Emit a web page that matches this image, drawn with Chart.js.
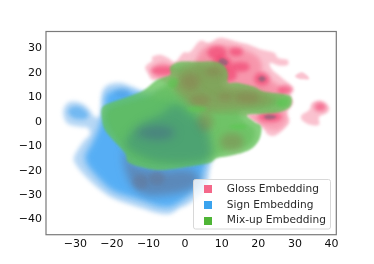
<!DOCTYPE html>
<html>
<head>
<meta charset="utf-8">
<style>body { margin: 0; background: #fff; } canvas { display: block; }</style>
<script src="https://cdn.jsdelivr.net/npm/chart.js@4/dist/chart.umd.min.js"></script>
</head>
<body>
<canvas id="kdeChart" width="374" height="264"></canvas>
<script>
const xTicks = [-30, -20, -10, 0, 10, 20, 30, 40];
const yTicks = [-40, -30, -20, -10, 0, 10, 20, 30];
const legendLabels = ['Gloss Embedding', 'Sign Embedding', 'Mix-up Embedding'];

// density contours, [x, y] in axis units
const glossEdge = [[-10.9,22.5],[-9,25],[-9,26.6],[-6.8,27.5],[-4.6,26.2],[-2.7,24.6],[-0.5,28.3],[1.4,28.7],[4.1,33.2],[6.6,32.4],[9.6,34.4],[14.2,32.8],[17.5,31.6],[21,29.5],[24.3,28.3],[25.4,26.2],[27.9,25.4],[28.1,23.4],[26,23],[23.2,24.2],[23.8,21.3],[26.5,18],[29.5,13.9],[28.7,11.1],[29.5,7.8],[27.9,3.7],[28.4,-0.4],[25.1,-5.3],[22.7,-5.3],[21,-2],[16.9,2],[10.9,2.9],[4.1,4.9],[-2.7,13.1],[-6.8,17.2],[-9,17.2],[-10.1,19.7]];
const glossEast = [[31.9,2.9],[33.9,4.9],[34.7,7.8],[36.9,8.6],[39.3,6.1],[38.8,3.7],[36.6,2],[36.6,-1.2],[34.2,-1.2],[31.9,0.8]];
const glossIsland = [[30.1,18.9],[31.7,20.3],[33.1,19.3],[33.9,17.6],[32.2,17.4],[30.6,18]];
const glossWing = [[-9,22.1],[-6.3,24.6],[-3.5,23],[-1.9,20.5],[-4.1,17.2],[-8.2,18]];
const glossMain = [[4.1,28.7],[8.2,31.6],[13.7,30.7],[19.1,27.5],[21,23.4],[21,19.3],[25.4,15.2],[27.3,11.1],[23.2,6.9],[15,9],[6.8,11.1],[2.7,19.3]];
const glossSouth = [[17.2,1.6],[21,3.7],[26.5,5.7],[27.9,0.8],[25.4,-3.3],[21.9,-2.5]];
const glossHot = [
  [[-9.5,21],[-7.5,22.7],[-4,22.7],[-2.5,21],[-4,19.3],[-7.5,19.3]],
  [[6,28.3],[7.5,30.8],[10,30.8],[11.4,28.3],[10,25.8],[7.5,25.8]],
  [[12,28.7],[13,30.3],[15,30.3],[15.8,28.7],[15,27.1],[13,27.1]],
  [[7.4,23.8],[8.7,26.7],[11.5,26.7],[12.8,23.8],[11.5,20.9],[8.7,20.9]],
  [[12.3,22.5],[13.5,24.3],[16.5,24.3],[17.7,22.5],[16.5,20.7],[13.5,20.7]],
  [[18.8,17.6],[20,20.1],[22,20.1],[23.2,17.6],[22,15.1],[20,15.1]],
  [[9.2,19.3],[10.5,21.8],[13,21.8],[14.2,19.3],[13,16.8],[10.5,16.8]],
  [[19.9,2],[21.5,4],[25,4],[26.5,2],[25,0],[21.5,0]],
  [[25.3,13.1],[26.3,14.7],[28.3,14.7],[29.3,13.1],[28.3,11.5],[26.3,11.5]],
  [[35.3,6.1],[36,7.7],[37.8,7.7],[38.5,6.1],[37.8,4.5],[36,4.5]]
];
const glossGrey = [
  [[9,24.5],[10,26],[11.5,25],[11.5,23.5],[10,23]],
  [[20,17.6],[21,18.8],[22,17.6],[21,16.4]],
  [[21.5,2],[23,3],[25,2],[23,1]]
];
const signEdge = [[-33.3,4.1],[-32,7.8],[-29.5,8.2],[-26.8,6.1],[-24.6,2],[-23.2,2.9],[-22.7,11.9],[-21,15.2],[-17.8,16],[-14.2,14.3],[-11.5,12.7],[-5.5,13.1],[1.4,9],[5.5,0.8],[7.4,-11.5],[6.6,-20.9],[6,-26.6],[3.3,-31.1],[0.5,-34],[-1.4,-35.2],[-4.1,-37.7],[-7.7,-37.3],[-12.3,-35.2],[-18.6,-32],[-22.4,-28.7],[-26.8,-23],[-30.1,-16.8],[-30.1,-13.5],[-27.9,-8.2],[-26,-5.3],[-26.5,-2.5],[-28.7,-2],[-32.2,-0.6]];
const signMid = [[-27.3,-15.6],[-25.4,-8.6],[-23.8,-3.3],[-22.1,4.9],[-21.6,11.1],[-18.3,13.1],[-13.7,11.9],[-9.6,10.2],[1.4,4.9],[5.5,-11.5],[4.9,-21.7],[2.7,-27.9],[-2.7,-34],[-6.8,-34.8],[-12.3,-32],[-19.1,-28.7],[-23.2,-23.8]];
const signWest = [[-32,4.1],[-30.9,6.1],[-28.7,6.1],[-26.5,3.3],[-27.3,1.2],[-30.6,1.6]];
const signDark = [[-16.7,-11.5],[-13.7,-17.6],[-6.8,-19.7],[1.4,-19.7],[4.1,-23.8],[1.4,-27.9],[-5.5,-29.9],[-10.9,-29.9],[-14.5,-25.8],[-16.4,-18.9]];
const signGrey = [
  [[-14.5,-24.6],[-13.2,-22],[-11.2,-22],[-10.1,-24.6],[-11.2,-27.5],[-13.2,-27.5]],
  [[-9.9,-23],[-8.8,-20.5],[-6.6,-20.5],[-5.5,-23],[-6.6,-25.5],[-8.8,-25.5]]
];
const signNorth = [[-19.4,11.9],[-18,13.5],[-16,13.5],[-15,11.9],[-16,10.3],[-18,10.3]];
const mixEdge = [[-22.7,5.7],[-20.5,7.8],[-15.8,10.2],[-11.5,12.7],[-7.7,17.2],[-4.1,19.3],[-4.1,22.5],[-1.4,24.6],[3.3,24.6],[8.2,24.6],[10.9,22.5],[11.7,19.3],[11.7,16],[14.2,16],[18.9,14.3],[21.6,12.3],[27.9,11.1],[29.2,9],[28.4,5.7],[25.1,3.7],[21.6,3.3],[16.9,2.9],[18.9,0],[20.8,-2],[20.2,-7.4],[17.5,-11.5],[12.3,-13.9],[8.7,-14.8],[6.6,-16.8],[0.5,-18.4],[-3.3,-19.3],[-7.7,-19.7],[-12.3,-18.4],[-15.6,-16.4],[-16.4,-12.7],[-19.7,-7.4],[-21.9,-3.3],[-22.7,0.8]];
const mixInner = [[-21,4.9],[-15,8.2],[-9.6,10.7],[-5.5,15.2],[-1.9,18],[-2.5,22.1],[1.4,23],[8.2,22.5],[10.1,19.3],[10.7,13.9],[17.8,12.3],[27.3,9],[27.3,6.6],[21,4.9],[15,4.1],[16.4,0],[19.1,-3.3],[17.8,-9.4],[10.9,-12.3],[5.5,-15.6],[-2.7,-17.6],[-9.6,-17.6],[-14.5,-14.8],[-18.3,-7.4],[-21,-1.2]];
const mixTeal = [[-2.7,7],[1.4,2.9],[5.5,-1.2],[7.4,-11.5],[5.5,-15.6],[-1.4,-16.8],[-9.6,-15.6],[-16.4,-9.4],[-12.3,-1.2],[-6.8,2.9]];
const mixSlate = [[-13.7,-4.5],[-10,-2],[-5,-2],[-2.7,-4.5],[-5,-7],[-10,-7]];
const mixOlive = [[-1.9,21.3],[1.4,23.8],[8.2,23.8],[10.9,20.5],[11.2,15.2],[17.8,13.9],[22.5,11.5],[24.5,8.5],[21,5.7],[15,4.9],[8.2,4.1],[2.7,5.7],[-1.9,11.1],[-3.6,16.4]];
const mixBrown = [
  [[9.5,-8.2],[11,-5],[14.6,-5],[16.1,-8.2],[14.6,-11.4],[11,-11.4]],
  [[3.3,0],[4.4,3.3],[6.6,3.3],[7.7,0],[6.6,-3.3],[4.4,-3.3]],
  [[-1.3,16.4],[0,19.7],[2.8,19.7],[4.1,16.4],[2.8,13.1],[0,13.1]],
  [[1.1,9],[2.6,11],[5.6,11],[7.1,9],[5.6,7],[2.6,7]],
  [[13.4,9.8],[15,11.8],[18.8,11.8],[20.4,9.8],[18.8,7.8],[15,7.8]],
  [[8.5,10],[10,11.5],[12,11.5],[13,10],[12,8.5],[10,8.5]],
  [[5,20.5],[6.5,22],[9,22],[10,20.5],[9,19],[6.5,19]]
];
const mixBright = [
  [[-4.7,16],[-3.8,18],[-2.3,18],[-1.9,16],[-2.8,14],[-4,14]],
  [[0.6,5.3],[2,6.3],[4.6,6.3],[6,5.3],[4.6,4.3],[2,4.3]],
  [[12,-2],[13.5,-1],[15.8,-1],[17,-2],[15.8,-3],[13.5,-3]],
  [[25,8],[27,10],[28.5,9],[28,6.5],[26,6]]
];

const glossColor = '#f4688a';
const signColor = '#3aa3ee';
const mixColor = '#4fb536';

// contour, fill colour, blur in px, back to front
const layers = [
  [glossEdge, 'rgba(244,110,140,0.42)', 1.6],
  [glossEast, 'rgba(244,110,140,0.42)', 1.6],
  [glossIsland, 'rgba(244,110,140,0.42)', 1.2],
  [glossWing, 'rgba(244,90,125,0.3)', 2],
  [glossMain, 'rgba(244,90,125,0.42)', 2.5],
  [glossSouth, 'rgba(244,90,125,0.3)', 2],
  ...glossHot.map(c => [c, 'rgba(240,50,100,0.55)', 2]),
  ...glossGrey.map(c => [c, 'rgba(130,100,120,0.7)', 1.2]),
  [signEdge, 'rgba(110,175,235,0.5)', 2],
  [signWest, 'rgba(70,165,240,0.6)', 2],
  [signMid, 'rgba(50,160,245,0.72)', 3],
  [signNorth, 'rgba(70,150,220,0.4)', 2],
  [signDark, 'rgba(95,115,150,0.62)', 4.5],
  ...signGrey.map(c => [c, 'rgba(105,105,125,0.3)', 2]),
  [mixEdge, 'rgba(100,195,90,0.78)', 1.2],
  [mixInner, 'rgba(92,185,85,0.55)', 2.5],
  [mixTeal, 'rgba(50,125,130,0.4)', 5],
  [mixSlate, 'rgba(70,100,140,0.5)', 5],
  [mixOlive, 'rgba(165,125,85,0.34)', 3.5],
  ...mixBrown.map(c => [c, 'rgba(150,95,70,0.32)', 3.5]),
  ...mixBright.map(c => [c, 'rgba(90,200,80,0.55)', 1.5])
];

// small square image so the legend keeps its wide gap before the text
function swatch(color) {
  let c = document.createElement('canvas');
  c.width = 8;
  c.height = 8;
  let g = c.getContext('2d');
  g.fillStyle = color;
  g.fillRect(0, 0, 8, 8);
  return c;
}

// fills each dataset as a closed smooth shape through its points
const contourFill = {
  id: 'contourFill',
  beforeInit(chart) {
    let legend = chart.legend;
    legend._layers = () => [{
      z: 1,
      draw() {
        let ctx = chart.ctx;
        ctx.save();
        ctx.beginPath();
        ctx.roundRect(193.5, 179.5, 137, 49.5, 2);
        ctx.fillStyle = 'rgba(255,255,255,0.8)';
        ctx.strokeStyle = '#d8d8d8';
        ctx.lineWidth = 1;
        ctx.fill();
        ctx.stroke();
        ctx.restore();
        legend.draw();
      }
    }];
  },
  afterLayout(chart) {
    let legend = chart.legend;
    legend.left = 189;
    legend.right = 331;
    legend.top = 179;
    legend.bottom = 262;
  },
  beforeDatasetDraw(chart, args) {
    let pts = args.meta.data;
    let n = pts.length;
    let ctx = chart.ctx;
    let ds = chart.data.datasets[args.index];
    ctx.save();
    ctx.filter = 'blur(' + ds.blurPx + 'px)';
    ctx.fillStyle = ds.backgroundColor;
    ctx.beginPath();
    ctx.moveTo(pts[0].x, pts[0].y);
    for (let i = 0; i < n; i++) {
      let p0 = pts[(i - 1 + n) % n], p1 = pts[i], p2 = pts[(i + 1) % n], p3 = pts[(i + 2) % n];
      ctx.bezierCurveTo(
        p1.x + (p2.x - p0.x) / 6, p1.y + (p2.y - p0.y) / 6,
        p2.x - (p3.x - p1.x) / 6, p2.y - (p3.y - p1.y) / 6,
        p2.x, p2.y
      );
    }
    ctx.closePath();
    ctx.fill();
    ctx.restore();
  },
  afterDatasetsDraw(chart) {
    let a = chart.chartArea;
    let ctx = chart.ctx;
    ctx.save();
    ctx.strokeStyle = '#7a7a7a';
    ctx.lineWidth = 1.2;
    ctx.strokeRect(a.left, a.top, a.right - a.left, a.bottom - a.top);
    ctx.restore();
  }
};

const tickFont = { family: '"DejaVu Sans"', size: 11 };

new Chart(document.getElementById('kdeChart'), {
  type: 'scatter',
  data: {
    datasets: layers.map((l, i) => ({
      data: l[0].map(p => ({ x: p[0], y: p[1] })),
      backgroundColor: l[1],
      blurPx: l[2],
      order: layers.length - i,
      showLine: false,
      pointRadius: 0
    }))
  },
  options: {
    responsive: false,
    animation: false,
    layout: { padding: { top: 31.5, right: 37.7, left: 0, bottom: 0 } },
    plugins: {
      tooltip: { enabled: false },
      legend: {
        position: 'chartArea',
        align: 'start',
        labels: {
          font: { family: '"DejaVu Sans"', size: 10.6 },
          color: '#2a2a2a',
          usePointStyle: true,
          pointStyleWidth: 27.5,
          padding: 5,
          generateLabels: () => legendLabels.map((text, i) => ({
            text: text,
            fontColor: '#2a2a2a',
            datasetIndex: i,
            pointStyle: swatch([glossColor, signColor, mixColor][i])
          }))
        }
      }
    },
    scales: {
      x: {
        type: 'linear',
        min: -38,
        max: 41.3,
        grid: { display: false, drawTicks: false },
        border: { display: false },
        afterBuildTicks: s => { s.ticks = xTicks.map(v => ({ value: v })); },
        afterFit: s => { s.height = 29.3; },
        ticks: {
          autoSkip: false, maxRotation: 0, padding: 3, color: '#0d0d0d', font: tickFont,
          callback: v => String(v).replace('-', '\u2212')
        }
      },
      y: {
        type: 'linear',
        min: -46.2,
        max: 37,
        grid: { display: false, drawTicks: false },
        border: { display: false },
        afterBuildTicks: s => { s.ticks = yTicks.map(v => ({ value: v })); },
        afterFit: s => { s.width = 46; },
        ticks: {
          autoSkip: false, padding: 4, color: '#0d0d0d', font: tickFont,
          callback: v => String(v).replace('-', '\u2212')
        }
      }
    }
  },
  plugins: [contourFill]
});
</script>
</body>
</html>
